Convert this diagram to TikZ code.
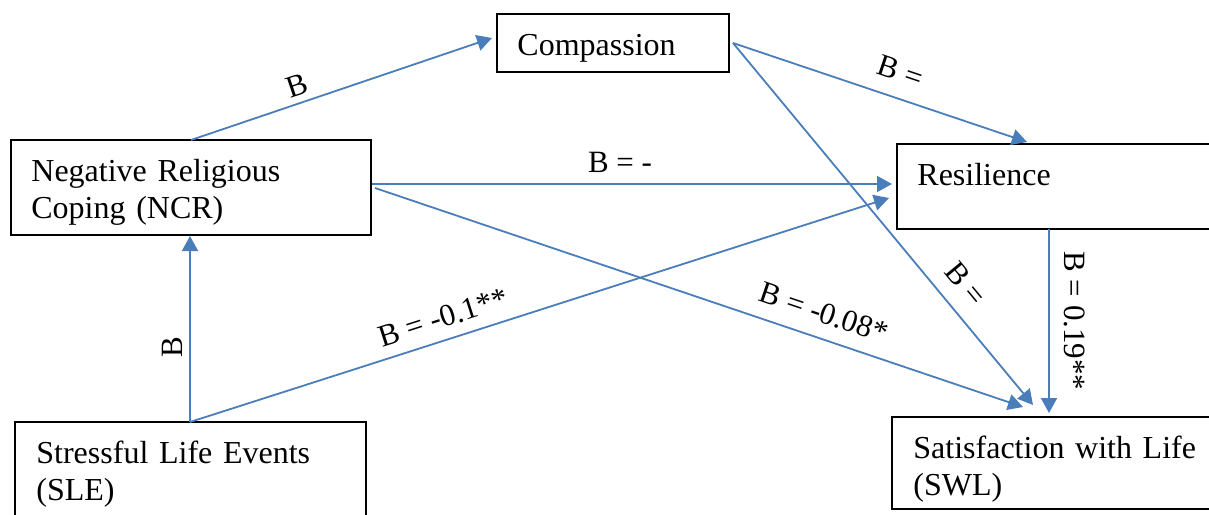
\documentclass[tikz,border=0pt]{standalone}
\usepackage{fontspec}
\setmainfont{Liberation Serif}
\usetikzlibrary{arrows.meta}
\definecolor{arrowblue}{HTML}{4A7EBB}
\begin{document}
\begin{tikzpicture}[x=0.5pt,y=-0.5pt,
  box/.style={draw=black, line width=1pt, rectangle, inner sep=0pt, outer sep=0pt, anchor=north west},
  txt/.style={anchor=base west, inner sep=0pt, align=left, text width=170pt, font=\fontsize{16}{18.5}\selectfont},
  conn/.style={draw=arrowblue, line width=0.9pt, -{Triangle[length=7.5pt,width=8pt]}},
  lab/.style={sloped, inner sep=0pt, font=\fontsize{15.5}{18}\selectfont}]
\useasboundingbox (0,0) rectangle (1209,514);
\clip (0,0) rectangle (1209,514);
% boxes
\node[box, minimum width=180pt, minimum height=47.5pt] (ncr) at (11,140) {};
\node[box, minimum width=116pt, minimum height=29pt] (comp) at (497,14) {};
\node[box, minimum width=171.5pt, minimum height=42.5pt] (res) at (897,144) {};
\node[box, minimum width=175.5pt, minimum height=60pt] (sle) at (15,422) {};
\node[box, minimum width=174pt, minimum height=46pt] (swl) at (892,417) {};
% texts
\node[txt] (ncrt) at (31,181) {Negative Religious\\Coping (NCR)};
\node[txt] (compt) at (517,55) {Compassion};
\node[txt] (rest) at (917,185) {Resilience};
\node[txt] (slet) at (36,463) {Stressful Life Events\\(SLE)};
\node[txt] (swlt) at (913,458) {Satisfaction with Life\\(SWL)};
% anchor points
\coordinate (slep) at ([xshift=87.5pt]sle.north west);
\coordinate (compp) at ([xshift=2pt]comp.east);
% connectors
\draw[conn] (ncr.north) -- node[lab, pos=0.37, above=3.25pt] (l1) {B} ([shift={(-5,-5)}]comp.west);
\draw[conn] (compp) -- node[lab, pos=0.54, above=7.5pt] (l2) {B =} ([shift={(130,-2)}]res.north west);
\draw[conn] (compp) -- node[lab, pos=0.71, above=7.5pt] (l3) {B =} ([shift={(141,-12)}]swl.north west);
\draw[conn] ([shift={(1,-3.5)}]ncr.east) -- node[lab, pos=0.477, above=5.5pt] (l4) {B = -} ([shift={(-5,-2.5)}]res.west);
\draw[conn] ([shift={(4,0.5)}]ncr.east) -- node[lab, pos=0.68, above=7pt] (l5) {B = -0.08*} ([shift={(131,-10)}]swl.north west);
\draw[conn] (slep) -- node[lab, pos=0.403, above=3.5pt] (l6) {B} ([shift={(179,1)}]ncr.south west);
\draw[conn] (slep) -- node[lab, pos=0.372, above=5.5pt] (l7) {B = -0.1**} ([shift={(-8,11.5)}]res.west);
\draw[conn] ([shift={(152,0)}]res.south west) -- node[lab, pos=0.5, above=7pt] (l8) {B = 0.19**} ([shift={(157,-4)}]swl.north west);
\end{tikzpicture}
\end{document}
